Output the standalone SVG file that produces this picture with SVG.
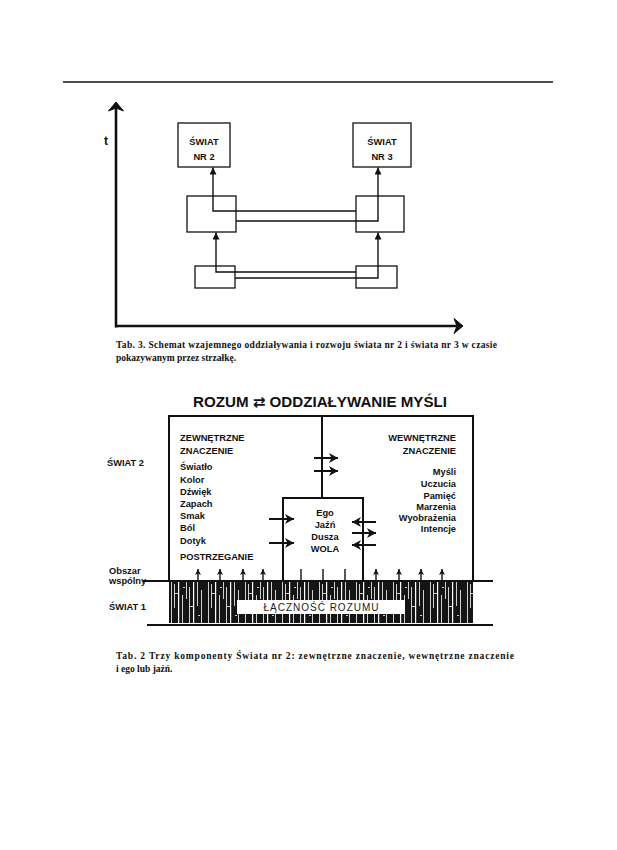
<svg xmlns="http://www.w3.org/2000/svg" width="617" height="850" viewBox="0 0 617 850">
<style>
.bx{fill:none;stroke:#111;stroke-width:1.3}
.ln{fill:none;stroke:#111;stroke-width:1.4}
.hv{fill:none;stroke:#111;stroke-width:2}
.lb{font-family:"Liberation Sans",Arial,sans-serif;font-weight:bold;font-size:9.3px;fill:#111}
.lr{text-anchor:end}
.lc{text-anchor:middle}
.cap{font-family:"Liberation Serif","Times New Roman",serif;font-weight:bold;font-size:9.5px;fill:#111}
</style>
<defs>
<marker id="aS" markerUnits="userSpaceOnUse" markerWidth="8" markerHeight="7" refX="7" refY="3.5" orient="auto"><path d="M0,0 L7,3.5 L0,7 Z" fill="#111"/></marker>
<marker id="aM" markerUnits="userSpaceOnUse" markerWidth="10" markerHeight="10" refX="9" refY="5" orient="auto"><path d="M0,0 L9,5 L0,10 L2.5,5 Z" fill="#111"/></marker>
<marker id="aU" markerUnits="userSpaceOnUse" markerWidth="7" markerHeight="7" refX="6" refY="3" orient="auto"><path d="M0,0 L6,3 L0,6 L1.5,3 Z" fill="#111"/></marker>
<pattern id="hatch" x="169" y="581" width="37" height="42" patternUnits="userSpaceOnUse">
<rect width="37" height="42" fill="#151515"/>
<rect x="2" y="0" width="0.8" height="42" fill="#fff"/>
<rect x="5" y="3" width="0.8" height="24" fill="#fff"/>
<rect x="9" y="0" width="1.2" height="42" fill="#fff"/>
<rect x="13" y="14" width="0.8" height="28" fill="#fff"/>
<rect x="17" y="0" width="0.8" height="18" fill="#fff"/>
<rect x="20" y="6" width="0.8" height="36" fill="#fff"/>
<rect x="24" y="0" width="1.2" height="42" fill="#fff"/>
<rect x="28" y="0" width="0.8" height="25" fill="#fff"/>
<rect x="32" y="9" width="0.8" height="33" fill="#fff"/>
<rect x="6" y="12" width="3" height="0.8" fill="#fff"/>
<rect x="21" y="25" width="3" height="0.8" fill="#fff"/>
<rect x="14" y="6" width="2" height="0.8" fill="#fff"/>
<rect x="29" y="34" width="2" height="0.8" fill="#fff"/>
</pattern>
</defs>
<rect width="617" height="850" fill="#fff"/>
<line x1="63" y1="82" x2="553" y2="82" stroke="#111" stroke-width="1.3"/>

<!-- Figure 1 -->
<g id="axes">
<line x1="116" y1="106" x2="116" y2="327.5" stroke="#111" stroke-width="2.6"/>
<line x1="115" y1="326" x2="459" y2="326" stroke="#111" stroke-width="2.6"/>
<path d="M116,102 L123.5,111 L116,108 L108.5,111 Z" fill="#111" stroke="#111" stroke-width="1"/>
<path d="M463,326 L454,318.5 L457,326 L454,333.5 Z" fill="#111" stroke="#111" stroke-width="1"/>
<text x="104" y="145" font-family="Liberation Sans,Arial,sans-serif" font-weight="bold" font-size="12" fill="#111">t</text>
</g>
<g id="swiat-nr2">
<rect class="bx" x="178" y="123" width="52" height="44"/>
<text class="lb lc" x="204" y="145" font-size="9.5">ŚWIAT</text>
<text class="lb lc" x="204" y="160" font-size="9.5">NR 2</text>
</g>
<g id="swiat-nr3">
<rect class="bx" x="353" y="123" width="58" height="44"/>
<text class="lb lc" x="382" y="145" font-size="9.5">ŚWIAT</text>
<text class="lb lc" x="382" y="160" font-size="9.5">NR 3</text>
</g>
<g id="mid-left"><rect class="bx" x="187" y="196" width="49" height="36"/></g>
<g id="mid-right"><rect class="bx" x="356" y="196" width="48" height="36"/></g>
<g id="low-left"><rect class="bx" x="195" y="266" width="40" height="22"/></g>
<g id="low-right"><rect class="bx" x="356" y="266" width="41" height="22"/></g>
<g id="connectors-top">
<path class="ln" d="M356,211 H213 V167.5" stroke-width="1.8" marker-end="url(#aS)"/>
<path class="ln" d="M236,221 H378 V167.5" marker-end="url(#aS)"/>
<path class="ln" d="M356,272 H216 V232.5" stroke-width="1.8" marker-end="url(#aS)"/>
<path class="ln" d="M235,278 H378 V232.5" marker-end="url(#aS)"/>
</g>
<g id="caption1">
<text class="cap" x="116" y="348" textLength="381" lengthAdjust="spacing">Tab. 3. Schemat wzajemnego oddziaływania i rozwoju świata nr 2 i świata nr 3 w czasie</text>
<text class="cap" x="116" y="361">pokazywanym przez strzałkę.</text>
</g>

<!-- Figure 2 -->
<text x="193" y="407" font-family="Liberation Sans,Arial,'DejaVu Sans',sans-serif" font-weight="bold" font-size="14.5" fill="#111" textLength="254" lengthAdjust="spacingAndGlyphs">ROZUM ⇄ ODDZIAŁYWANIE MYŚLI</text>

<g id="band">
<rect x="169" y="581" width="304" height="42" fill="url(#hatch)"/>
<line x1="143" y1="581" x2="493" y2="581" stroke="#111" stroke-width="1.8"/>
<line x1="147" y1="625" x2="493" y2="625" stroke="#111" stroke-width="1.8"/>
<rect x="237" y="600" width="168" height="14" fill="#fff"/>
<text x="321" y="611" text-anchor="middle" font-family="Liberation Sans,Arial,sans-serif" font-size="10" fill="#222" textLength="115" lengthAdjust="spacing">ŁĄCZNOŚĆ ROZUMU</text>
</g>

<g id="swiat2-frame">
<path class="hv" d="M169,581 V416 H473 V581"/>
<line class="hv" x1="322" y1="416" x2="322" y2="498"/>
</g>

<g id="zewnetrzne">
<text class="lb" x="180" y="441">ZEWNĘTRZNE</text>
<text class="lb" x="180" y="454">ZNACZENIE</text>
<text class="lb" x="180" y="470">Światło</text>
<text class="lb" x="180" y="483">Kolor</text>
<text class="lb" x="180" y="495">Dźwięk</text>
<text class="lb" x="180" y="507">Zapach</text>
<text class="lb" x="180" y="519">Smak</text>
<text class="lb" x="180" y="531">Ból</text>
<text class="lb" x="180" y="544">Dotyk</text>
<text class="lb" x="180" y="560">POSTRZEGANIE</text>
</g>

<g id="wewnetrzne">
<text class="lb lr" x="456" y="441">WEWNĘTRZNE</text>
<text class="lb lr" x="456" y="454">ZNACZENIE</text>
<text class="lb lr" x="456" y="475">Myśli</text>
<text class="lb lr" x="456" y="487">Uczucia</text>
<text class="lb lr" x="456" y="499">Pamięć</text>
<text class="lb lr" x="456" y="510">Marzenia</text>
<text class="lb lr" x="456" y="521">Wyobrażenia</text>
<text class="lb lr" x="456" y="532">Intencje</text>
</g>

<g id="ego">
<path class="hv" d="M283,581 V498 H363 V581"/>
<text class="lb lc" x="325" y="516">Ego</text>
<text class="lb lc" x="325" y="528">Jaźń</text>
<text class="lb lc" x="325" y="540">Dusza</text>
<text class="lb lc" x="325" y="552">WOLA</text>
<line class="ln" x1="301" y1="569" x2="301" y2="581"/>
<line class="ln" x1="323" y1="569" x2="323" y2="581"/>
<line class="ln" x1="345" y1="569" x2="345" y2="581"/>
</g>

<g id="labels-left">
<text class="lb" x="107" y="466">ŚWIAT 2</text>
<text class="lb" x="109" y="574" font-size="7.5">Obszar</text>
<text class="lb" x="109" y="584" font-size="7.5">wspólny</text>
<text class="lb" x="109" y="610">ŚWIAT 1</text>
</g>

<g id="connectors">
<line class="hv" x1="314" y1="458" x2="338" y2="458" marker-end="url(#aM)"/>
<line class="hv" x1="314" y1="471" x2="338" y2="471" marker-end="url(#aM)"/>
<line class="hv" x1="269" y1="519" x2="294" y2="519" marker-end="url(#aM)"/>
<line class="hv" x1="269" y1="543" x2="294" y2="543" marker-end="url(#aM)"/>
<line class="hv" x1="376" y1="522" x2="352" y2="522" marker-end="url(#aM)"/>
<line class="hv" x1="352" y1="533" x2="376" y2="533" marker-end="url(#aM)"/>
<line class="hv" x1="376" y1="545" x2="352" y2="545" marker-end="url(#aM)"/>
<line class="ln" x1="198" y1="580" x2="198" y2="569" marker-end="url(#aU)"/>
<line class="ln" x1="220" y1="580" x2="220" y2="569" marker-end="url(#aU)"/>
<line class="ln" x1="243" y1="580" x2="243" y2="569" marker-end="url(#aU)"/>
<line class="ln" x1="263" y1="580" x2="263" y2="569" marker-end="url(#aU)"/>
<line class="ln" x1="376" y1="580" x2="376" y2="569" marker-end="url(#aU)"/>
<line class="ln" x1="399" y1="580" x2="399" y2="569" marker-end="url(#aU)"/>
<line class="ln" x1="421" y1="580" x2="421" y2="569" marker-end="url(#aU)"/>
<line class="ln" x1="442" y1="580" x2="442" y2="569" marker-end="url(#aU)"/>
</g>

<g id="caption2">
<text class="cap" x="116" y="659" textLength="398" lengthAdjust="spacing">Tab. 2 Trzy komponenty Świata nr 2: zewnętrzne znaczenie, wewnętrzne znaczenie</text>
<text class="cap" x="116" y="672">i ego lub jaźń.</text>
</g>
</svg>
